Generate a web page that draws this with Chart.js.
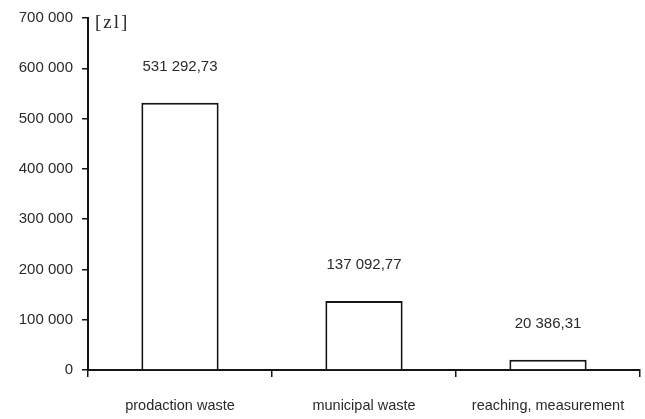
<!DOCTYPE html>
<html>
<head>
<meta charset="utf-8">
<script src="https://cdn.jsdelivr.net/npm/chart.js@4"></script>
<style>
  html, body { margin: 0; padding: 0; background: #fff; }
  #wrap { width: 645px; height: 419px; }
</style>
</head>
<body>
<div id="wrap"><canvas id="myChart"></canvas></div>
<script>
'use strict';

const categories = ['prodaction waste', 'municipal waste', 'reaching, measurement'];
const costs = [531292.73, 137092.77, 20386.31];
const costLabels = ['531 292,73', '137 092,77', '20 386,31'];
const yMax = 700000;
const yStep = 100000;

function spaced(n) {
    return String(n).replace(/\B(?=(\d{3})+(?!\d))/g, ' ');
}

// value labels above the bars + the [zl] unit
const barLabels = {
    id: 'barLabels',
    afterDatasetsDraw(chart) {
        const ctx = chart.ctx;
        const meta = chart.getDatasetMeta(0);
        ctx.save();
        ctx.fillStyle = '#2a2a2a';
        ctx.font = '15px "Liberation Sans", Arial, sans-serif';
        ctx.textAlign = 'center';
        ctx.textBaseline = 'middle';
        meta.data.forEach((bar, i) => {
            ctx.fillText(costLabels[i], bar.x, bar.y - 36);
        });
        ctx.font = '19px "Liberation Serif", "Times New Roman", serif';
        ctx.letterSpacing = '2px';
        ctx.textAlign = 'left';
        ctx.fillText('[zl]', chart.chartArea.left + 7, chart.chartArea.top + 5);
        ctx.restore();
    }
};

new Chart('myChart', {
    type: 'bar',
    data: {
        labels: categories,
        datasets: [{
            data: costs,
            backgroundColor: '#fff',
            borderColor: '#151515',
            borderWidth: 2,
            categoryPercentage: 1,
            barPercentage: 0.42
        }]
    },
    options: {
        responsive: true,
        maintainAspectRatio: false,
        animation: false,
        layout: { padding: { top: 16, right: 5, left: 0, bottom: 0 } },
        plugins: {
            legend: { display: false },
            tooltip: { enabled: false }
        },
        scales: {
            x: {
                grid: {
                    offset: true,
                    drawOnChartArea: false,
                    drawTicks: true,
                    tickLength: 7,
                    color: '#151515',
                    lineWidth: 1.5
                },
                border: { color: '#151515', width: 2 },
                ticks: {
                    color: '#2a2a2a',
                    padding: 20,
                    font: { family: '"Liberation Sans", Arial, sans-serif', size: 14.5 }
                },
                afterFit(scale) { scale.height = 49; }
            },
            y: {
                min: 0,
                max: yMax,
                ticks: {
                    stepSize: yStep,
                    color: '#2a2a2a',
                    padding: 9,
                    font: { family: '"Liberation Sans", Arial, sans-serif', size: 15 },
                    callback: (v) => spaced(v)
                },
                grid: {
                    drawOnChartArea: false,
                    drawTicks: true,
                    tickLength: 6,
                    color: '#151515',
                    lineWidth: 1.5
                },
                border: { color: '#151515', width: 2 },
                afterFit(scale) { scale.width = 88; }
            }
        }
    },
    plugins: [barLabels]
});
</script>
</body>
</html>
